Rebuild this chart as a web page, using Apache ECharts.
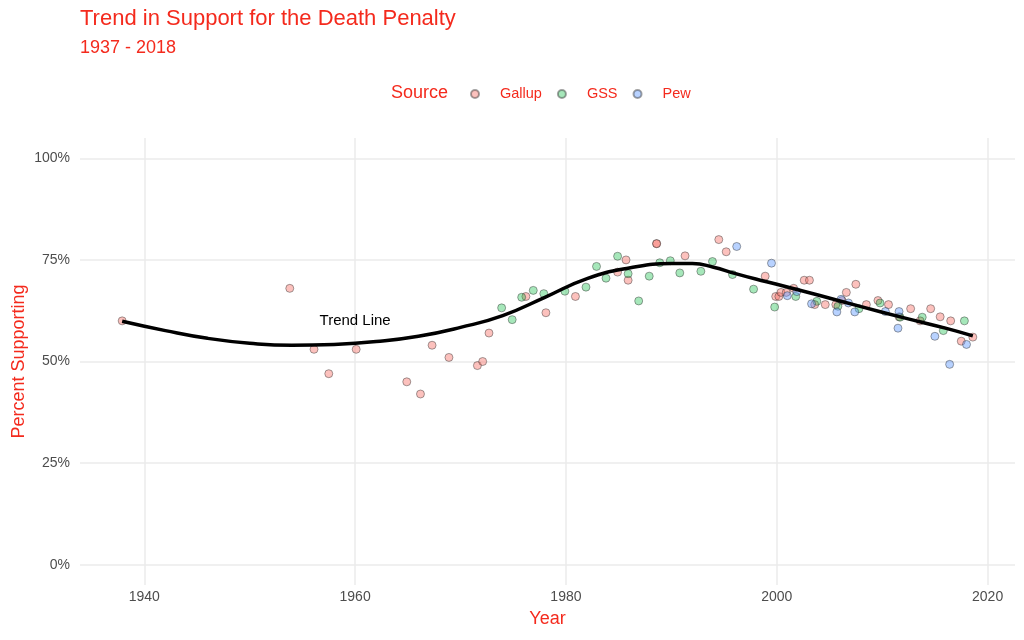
<!DOCTYPE html>
<html>
<head>
<meta charset="utf-8">
<script src="https://cdn.jsdelivr.net/npm/echarts@6/dist/echarts.min.js"></script>
<style>html,body{margin:0;padding:0;background:#fff}#chart{width:1024px;height:640px}</style>
</head>
<body>
<div id="chart"></div>
<script>
const gallupYear = [1937.9,1953.8,1956.1,1957.5,1960.1,1964.9,1966.2,1967.3,1968.9,1971.6,1972.1,1972.7,1976.2,1978.1,1980.9,1984.9,1985.7,1985.9,1988.6,1988.6,1991.3,1994.5,1995.2,1998.9,1999.9,2000.2,2000.4,2000.9,2001.6,2002.6,2003.1,2003.6,2004.6,2005.6,2006.2,2006.6,2007.5,2008.5,2009.6,2010.6,2011.6,2012.7,2013.6,2014.6,2015.5,2016.5,2017.5,2018.6];
const gallupPct  = [60,68,53,47,53,45,42,54,51,49,50,57,66,62,66,72,75,70,79,79,76,80,77,71,66,66,67,67,68,70,70,64,64,64,65,67,69,64,65,64,61,63,60,63,61,60,55,56];
const gssYear = [1973.9,1974.9,1975.8,1976.9,1977.9,1979.9,1981.9,1982.9,1983.8,1984.9,1985.9,1986.9,1987.9,1988.9,1989.9,1990.8,1992.8,1993.9,1995.8,1997.8,1999.8,2001.8,2003.8,2005.8,2007.8,2009.8,2011.7,2013.8,2015.8,2017.8];
const gssPct  = [63.2,60.3,65.8,67.5,66.7,67.3,68.3,73.4,70.5,75.9,71.6,64.9,71.0,74.3,74.8,71.8,72.2,74.6,71.4,67.8,63.4,66.0,64.8,63.6,63.0,64.4,60.9,60.9,57.6,60.0];
const pewYear = [1996.2,1999.5,2001.0,2001.9,2003.3,2005.7,2006.1,2006.8,2007.4,2010.3,2011.6,2011.5,2015.0,2016.4,2018.0];
const pewPct  = [78.3,74.2,66.2,67.2,64.2,62.2,65.3,64.4,62.2,62.3,62.3,58.2,56.2,49.3,54.2];
const trendYear = [1937.9,1942,1946,1950,1954,1958,1962,1966,1970,1974,1978,1982,1986,1990,1992,1994,1996,1998,2000,2004,2008,2012,2016,2018.6];
const trendPct  = [59.9,57.6,55.7,54.5,54.0,54.2,54.9,56.2,58.4,61.3,65.8,70.4,73.0,74.1,74.1,73.2,71.7,70.3,69.0,66.3,63.5,60.8,58.2,56.3];
const xTicks = [1940,1960,1980,2000,2020];
const yTicks = [0,25,50,75,100];
const seriesNames = ['Gallup','GSS','Pew'];
const trendLabel = {year:1960, pct:60.1, text:'Trend Line'};

const RED = '#f42a1d';
const FONT = 'Liberation Sans, Arial, sans-serif';
const fills = ['rgba(248,118,109,0.45)','rgba(0,186,56,0.35)','rgba(97,156,255,0.45)'];
const border = 'rgba(50,50,50,0.45)';
const zip = (a,b)=>a.map((v,i)=>[v,b[i]]);
const pts = [zip(gallupYear,gallupPct), zip(gssYear,gssPct), zip(pewYear,pewPct)];

const chart = echarts.init(document.getElementById('chart'), null, {renderer:'canvas'});
chart.setOption({
  animation:false,
  backgroundColor:'#fff',
  textStyle:{fontFamily:FONT},
  title:[
    {text:'Trend in Support for the Death Penalty', left:80, top:6, padding:0, textStyle:{color:RED, fontSize:22, fontWeight:'normal', fontFamily:FONT, lineHeight:26}},
    {text:'1937 - 2018', left:80, top:37, padding:0, textStyle:{color:RED, fontSize:18, fontWeight:'normal', fontFamily:FONT, lineHeight:22}},
    {text:'Source', left:391, top:82, padding:0, textStyle:{color:RED, fontSize:18, fontWeight:'normal', fontFamily:FONT, lineHeight:22}}
  ],
  legend:{
    data:seriesNames, left:465, top:81, icon:'circle', itemWidth:20, itemHeight:8, itemGap:15,
    textStyle:{color:RED, fontSize:14.5, fontFamily:FONT, padding:[0,0,0,10], lineHeight:16}
  },
  grid:{left:80, right:9, top:138, bottom:55, outerBoundsMode:'none', containLabel:false},
  xAxis:{
    type:'value', min:1933.9, max:2022.6,
    name:'Year', nameLocation:'middle', nameGap:25, nameMoveOverlap:false,
    nameTextStyle:{color:RED, fontSize:18, fontFamily:FONT},
    axisLine:{show:false},
    axisTick:{show:false, customValues:xTicks},
    axisLabel:{customValues:xTicks, formatter:v=>String(v), color:'#4d4d4d', fontSize:14, margin:5, fontFamily:FONT},
    splitLine:{show:true, lineStyle:{color:'#ebebeb', width:1.5}}
  },
  yAxis:{
    type:'value', min:-5, max:105,
    name:'Percent Supporting', nameLocation:'middle', nameGap:52, nameMoveOverlap:false,
    nameTextStyle:{color:RED, fontSize:18, fontFamily:FONT},
    axisLine:{show:false},
    axisTick:{show:false, customValues:yTicks},
    axisLabel:{customValues:yTicks, formatter:'{value}%', color:'#4d4d4d', fontSize:14, margin:10, fontFamily:FONT},
    splitLine:{show:true, lineStyle:{color:'#ebebeb', width:1.5}}
  },
  series:[
    ...seriesNames.map((n,i)=>({
      name:n, type:'scatter', data:pts[i], symbolSize:8,
      itemStyle:{color:fills[i], borderColor:border, borderWidth:1, opacity:1},
      z:2
    })),
    {
      name:'trend', type:'line', data:zip(trendYear,trendPct), smooth:0.5, showSymbol:false, symbol:'none',
      lineStyle:{color:'#000', width:3.5}, z:5, silent:true,
      markPoint:{
        symbol:'circle', symbolSize:0,
        data:[{coord:[trendLabel.year, trendLabel.pct], value:trendLabel.text}],
        label:{show:true, position:'inside', formatter:trendLabel.text, color:'#000', fontSize:15, fontFamily:FONT}
      }
    }
  ]
});
</script>
</body>
</html>
